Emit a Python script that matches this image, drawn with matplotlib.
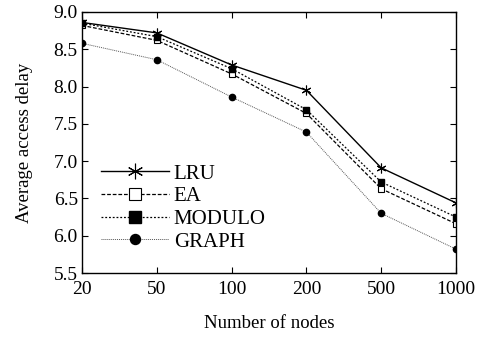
import matplotlib
matplotlib.use("Agg")
import matplotlib.pyplot as plt

plt.rcParams['font.family'] = ['Liberation Serif', 'DejaVu Serif']

nodes = ["20", "50", "100", "200", "500", "1000"]
lru = [8.86, 8.72, 8.29, 7.95, 6.91, 6.44]
ea = [8.82, 8.62, 8.17, 7.64, 6.63, 6.16]
modulo = [8.85, 8.67, 8.24, 7.69, 6.72, 6.25]
graph = [8.58, 8.36, 7.86, 7.39, 6.30, 5.82]

fig = plt.figure(figsize=(4.78, 3.38), dpi=100)
ax = fig.add_axes([0.1715, 0.1923, 0.7825, 0.7722])
x = list(range(len(nodes)))

ax.plot(x, lru, color='black', lw=1.0, ls='-', marker=(6, 2, 0), ms=7, mew=0.8, label='LRU')
ax.plot(x, ea, color='black', lw=0.9, ls=(0, (3, 1.5)), marker='s', ms=5, mfc='white', mew=0.8, label='EA')
ax.plot(x, modulo, color='black', lw=0.9, ls=(0, (1.5, 1.5)), marker='s', ms=5, mfc='black', label='MODULO')
ax.plot(x, graph, color='#555555', lw=0.7, ls=(0, (1, 1)), marker='o', ms=4.5, mfc='black', mec='black', label='GRAPH')

ax.set_xlim(0, len(nodes) - 1)
ax.set_ylim(5.5, 9.0)
ax.set_xticks(x)
ax.set_xticklabels(nodes)
ax.set_yticks([5.5, 6.0, 6.5, 7.0, 7.5, 8.0, 8.5, 9.0])
ax.set_yticklabels(["5.5", "6.0", "6.5", "7.0", "7.5", "8.0", "8.5", "9.0"])
ax.tick_params(direction='in', top=True, right=True, labelsize=14, length=4, width=0.8)
ax.tick_params(axis='x', pad=6)
ax.tick_params(axis='y', pad=3)
for s in ax.spines.values():
    s.set_linewidth(1.0)
ax.set_xlabel("Number of nodes", fontsize=13.5, labelpad=12)
ax.set_ylabel("Average access delay", fontsize=13.5, labelpad=15)

leg = ax.legend(loc='lower left', bbox_to_anchor=(0.0, 0.01), frameon=False, fontsize=15,
                handlelength=3.3, markerscale=1.6, labelspacing=0.15, handletextpad=0.2,
                borderaxespad=0.5)

fig.savefig("out.png", dpi=100)
